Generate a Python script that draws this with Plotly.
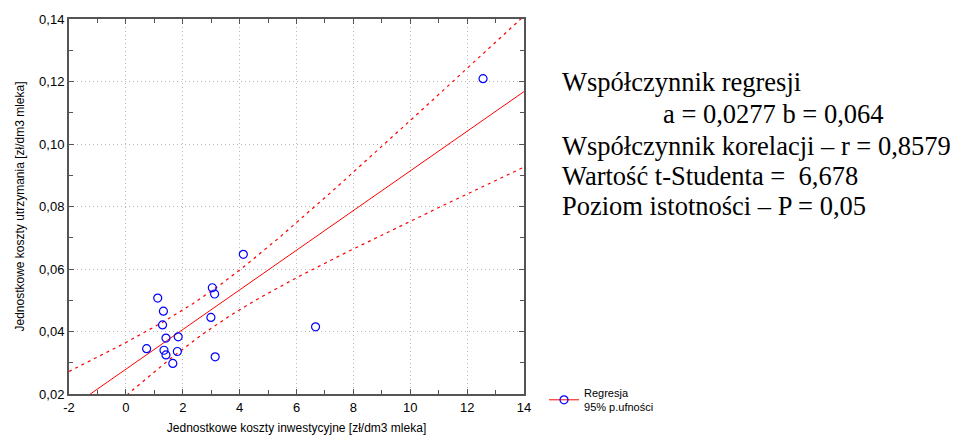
import numpy as np
import plotly.graph_objects as go

# Data
x_inv = [4.13, 3.04, 3.12, 1.12, 1.32, 2.99, 1.29, 1.41, 1.84, 0.73, 1.34, 1.41, 1.81, 1.65, 3.14, 6.67, 12.56]
y_utr = [0.0647, 0.0540, 0.0520, 0.0507, 0.0465, 0.0445, 0.0421, 0.0379, 0.0383, 0.0345, 0.0340, 0.0325, 0.0336, 0.0298, 0.0319, 0.0415, 0.1209]
x_ticks = [-2, 0, 2, 4, 6, 8, 10, 12, 14]
y_ticks = [0.02, 0.04, 0.06, 0.08, 0.10, 0.12, 0.14]
t_crit = 2.131  # t(0.975, df=15)

stat_lines = [
    "Współczynnik regresji",
    "a = 0,0277 b = 0,064",
    "Współczynnik korelacji – r = 0,8579",
    "Wartość t-Studenta =  6,678",
    "Poziom istotności – P = 0,05",
]

x = np.array(x_inv)
y = np.array(y_utr)
n = len(x)
b1, b0 = np.polyfit(x, y, 1)
resid = y - (b0 + b1 * x)
s = np.sqrt(np.sum(resid ** 2) / (n - 2))
xbar = x.mean()
sxx = np.sum((x - xbar) ** 2)
xs = np.linspace(-2, 14, 200)
yhat = b0 + b1 * xs
half = t_crit * s * np.sqrt(1.0 / n + (xs - xbar) ** 2 / sxx)

red = "#ff0000"
fig = go.Figure()
fig.add_trace(go.Scatter(x=xs, y=yhat, mode="lines", line=dict(color=red, width=1), showlegend=False, hoverinfo="skip"))
fig.add_trace(go.Scatter(x=xs, y=yhat + half, mode="lines", line=dict(color=red, width=1.2, dash="3px,4px"), showlegend=False, hoverinfo="skip"))
fig.add_trace(go.Scatter(x=xs, y=yhat - half, mode="lines", line=dict(color=red, width=1.2, dash="3px,4px"), showlegend=False, hoverinfo="skip"))
fig.add_trace(go.Scatter(x=x_inv, y=y_utr, mode="markers",
                         marker=dict(symbol="circle-open", size=8, color="#0000ff", line=dict(width=1.2, color="#0000ff")),
                         showlegend=False))
fig.add_trace(go.Scatter(x=[None], y=[None], mode="lines+markers",
                         line=dict(color=red, width=1),
                         marker=dict(symbol="circle-open", size=8, color="#0000ff", line=dict(width=1.2, color="#0000ff")),
                         name="Regresja<br>95% p.ufności", showlegend=True))

axis_common = dict(
    showline=True, linecolor="#555555", linewidth=2, mirror="ticks",
    ticks="inside", ticklen=5, tickcolor="#555555", tickwidth=1,
    showgrid=True, gridcolor="#b8b8b8", griddash="1px,3px", gridwidth=1,
    zeroline=False,
    tickfont=dict(family="Liberation Sans, Arial", size=13, color="#000000"),
    title_font=dict(family="Liberation Sans, Arial", size=12, color="#000000"),
)

fig.update_xaxes(range=[-2, 14], tickvals=x_ticks, ticktext=[str(v) for v in x_ticks],
                 minor=dict(ticks="inside", ticklen=4, tickcolor="#555555", dtick=1, showgrid=False),
                 title_text="Jednostkowe koszty inwestycyjne [zł/dm3 mleka]", title_standoff=10,
                 **axis_common)
fig.update_yaxes(range=[0.02, 0.14], tickvals=y_ticks, ticktext=[f"{v:.2f}".replace(".", ",") for v in y_ticks],
                 minor=dict(ticks="inside", ticklen=4, tickcolor="#555555", dtick=0.01, showgrid=False),
                 title_text="Jednostkowe koszty utrzymania [zł/dm3 mleka]", title_standoff=12,
                 **axis_common)

L, R, T, B = 69, 524, 17, 398
ys = [81, 114, 146, 177, 207]
xs_ann = [562, 663, 562, 562, 562]
for txt, yy, xx in zip(stat_lines, ys, xs_ann):
    fig.add_annotation(x=(xx - L) / (R - L), y=(B - yy) / (B - T), xref="paper", yref="paper", text=txt,
                       showarrow=False, xanchor="left", yanchor="middle", xshift=-2,
                       font=dict(family="Liberation Serif, Times New Roman", size=26.5, color="#000000"))

fig.update_layout(
    width=955, height=445,
    margin=dict(l=L, r=955 - R, t=T, b=445 - B),
    plot_bgcolor="#ffffff", paper_bgcolor="#ffffff",
    legend=dict(x=1.044, y=-0.072, xanchor="left", yanchor="bottom",
                font=dict(family="Liberation Sans, Arial", size=11, color="#000000"),
                bgcolor="rgba(0,0,0,0)", itemwidth=30),
)

fig.write_html("out.html")
